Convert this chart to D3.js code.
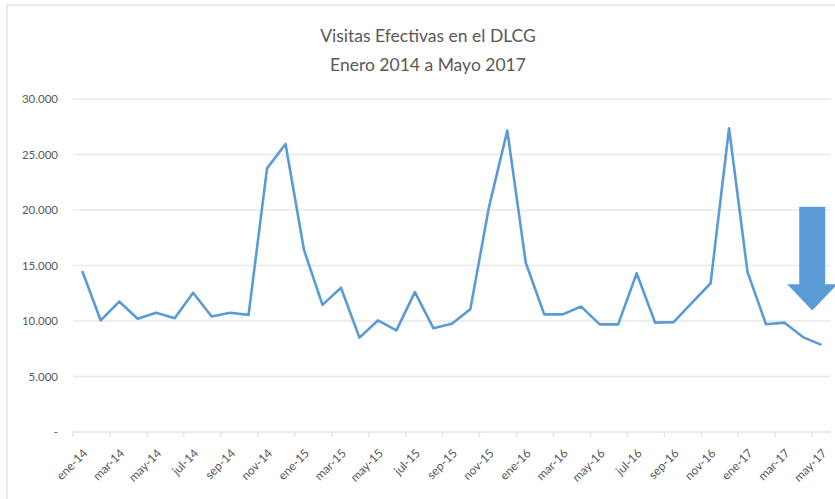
<!DOCTYPE html>
<html>
<head>
<meta charset="utf-8">
<script src="https://cdn.jsdelivr.net/npm/d3@7"></script>
<style>
  html, body { margin: 0; padding: 0; background: #fff; }
  svg { display: block; }
</style>
</head>
<body>
<svg id="chart" width="835" height="499"></svg>
<script>
const titleLines = ["Visitas Efectivas en el DLCG", "Enero 2014 a Mayo 2017"];
const months = [
  "ene-14","feb-14","mar-14","abr-14","may-14","jun-14","jul-14","ago-14","sep-14","oct-14","nov-14","dic-14",
  "ene-15","feb-15","mar-15","abr-15","may-15","jun-15","jul-15","ago-15","sep-15","oct-15","nov-15","dic-15",
  "ene-16","feb-16","mar-16","abr-16","may-16","jun-16","jul-16","ago-16","sep-16","oct-16","nov-16","dic-16",
  "ene-17","feb-17","mar-17","abr-17","may-17"
];
const visitas = [
  14500, 10050, 11750, 10200, 10750, 10250, 12550, 10400, 10750, 10550, 23750, 25950,
  16400, 11450, 13000, 8500, 10050, 9150, 12600, 9350, 9750, 11050, 20200, 27150,
  15250, 10600, 10600, 11300, 9700, 9700, 14300, 9850, 9900, 11650, 13400, 27350,
  14400, 9700, 9850, 8550, 7850
];
const yTicks = [0, 5000, 10000, 15000, 20000, 25000, 30000];
const yTickLabels = ["-", "5.000", "10.000", "15.000", "20.000", "25.000", "30.000"];

const svg = d3.select("#chart");
const font = "Lato, 'Open Sans', sans-serif";
const textColor = "#595959";

// chart border
svg.append("rect").attr("x", 7).attr("y", 5).attr("width", 840).attr("height", 510)
  .attr("fill", "#fff").attr("stroke", "#e3e3e3").attr("stroke-width", 1.5);

const x = d3.scaleBand().domain(months).range([73, 830.7]).paddingInner(0).paddingOuter(0);
const y = d3.scaleLinear().domain([0, 30000]).range([432, 99]);

// title
svg.append("g").selectAll("text").data(titleLines).join("text")
  .attr("x", 428).attr("y", (d, i) => 42 + i * 29)
  .attr("text-anchor", "middle")
  .attr("font-family", font).attr("font-size", 17.5)
  .attr("fill", textColor)
  .text(d => d);

// gridlines
svg.append("g").selectAll("line").data(yTicks.filter(d => d > 0)).join("line")
  .attr("x1", 73).attr("x2", 830.7)
  .attr("y1", d => y(d)).attr("y2", d => y(d))
  .attr("stroke", "#e9e9e9").attr("stroke-width", 1.3);

// y axis labels
const yAxis = d3.axisLeft(y).tickValues(yTicks).tickSize(0).tickPadding(0)
  .tickFormat((d, i) => yTickLabels[i]);
const gy = svg.append("g").attr("transform", "translate(58,0)").call(yAxis);
gy.select(".domain").remove();
gy.selectAll("text").attr("font-family", font).attr("font-size", 11.5).attr("fill", textColor);

// x axis
const xAxisLine = svg.append("g");
xAxisLine.append("line").attr("x1", 73).attr("x2", 830.7).attr("y1", y(0)).attr("y2", y(0))
  .attr("stroke", "#e3e3e3").attr("stroke-width", 1.3);
const tickIdx = d3.range(0, months.length, 2);
xAxisLine.selectAll("line.tk").data(tickIdx).join("line").attr("class", "tk")
  .attr("x1", i => x(months[i])).attr("x2", i => x(months[i]))
  .attr("y1", y(0)).attr("y2", y(0) + 5)
  .attr("stroke", "#e3e3e3").attr("stroke-width", 1.3);
xAxisLine.selectAll("text").data(tickIdx).join("text")
  .attr("transform", i => `translate(${x(months[i]) + x.bandwidth() / 2 + 3},${y(0) + 19}) rotate(-45)`)
  .attr("text-anchor", "end")
  .attr("dy", "0.35em")
  .attr("font-family", font).attr("font-size", 12).attr("fill", textColor)
  .text(i => months[i]);

// line
const line = d3.line()
  .x((d, i) => x(months[i]) + x.bandwidth() / 2)
  .y(d => y(d));
svg.append("path").datum(visitas)
  .attr("d", line)
  .attr("fill", "none")
  .attr("stroke", "#5b9bd5")
  .attr("stroke-width", 2.6)
  .attr("stroke-linejoin", "round");

// annotation arrow (downward trend)
const ax = x("may-17");
const arrow = d3.path();
arrow.moveTo(ax - 13, y(20300));
arrow.lineTo(ax + 13, y(20300));
arrow.lineTo(ax + 13, y(13300));
arrow.lineTo(ax + 25, y(13300));
arrow.lineTo(ax, y(10950));
arrow.lineTo(ax - 25, y(13300));
arrow.lineTo(ax - 13, y(13300));
arrow.closePath();
svg.append("path").attr("d", arrow.toString()).attr("fill", "#5b9bd5");
</script>
</body>
</html>
